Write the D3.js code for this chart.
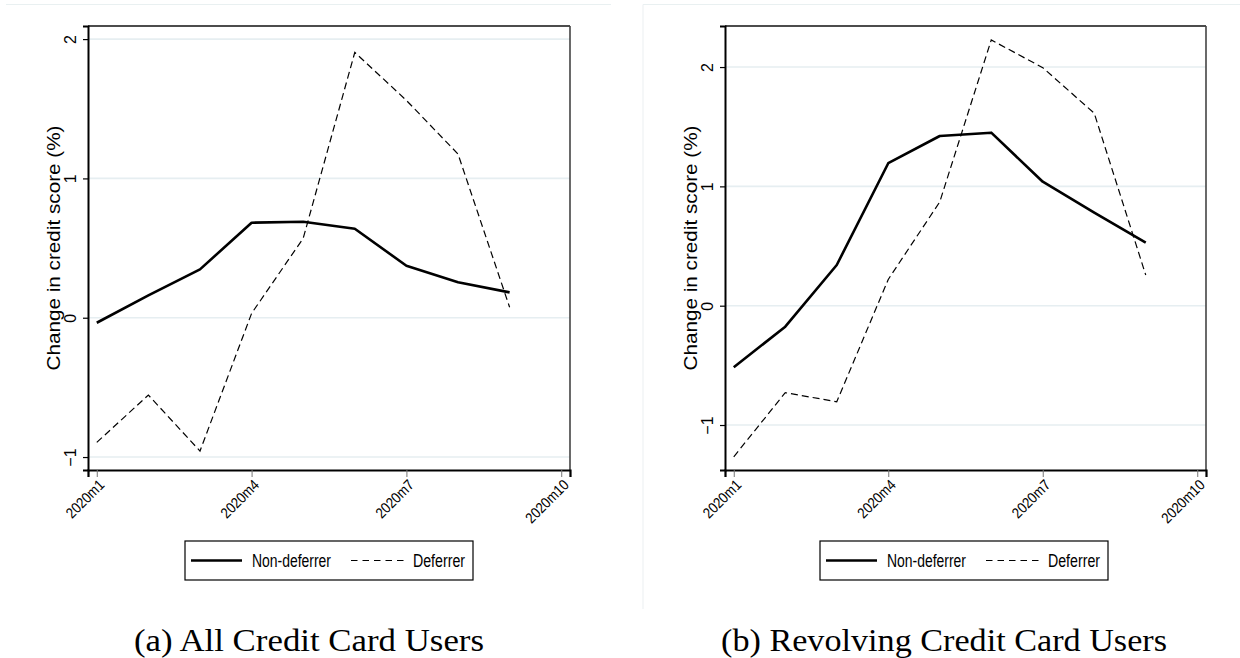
<!DOCTYPE html>
<html>
<head>
<meta charset="utf-8">
<script src="https://cdn.jsdelivr.net/npm/d3@7"></script>
<style>
  html, body { margin: 0; padding: 0; background: #ffffff; }
  svg { display: block; }
</style>
</head>
<body>
<svg id="fig" width="1240" height="658"></svg>
<script>
// Months since 2020m1 (1 = January 2020)
const months = [1, 2, 3, 4, 5, 6, 7, 8, 9];
const tickMonths = [1, 4, 7, 10];
const tickLabels = ["2020m1", "2020m4", "2020m7", "2020m10"];

// Panel (a): all credit card users
const allNonDeferrer = [-0.036, 0.16, 0.347, 0.682, 0.689, 0.639, 0.373, 0.254, 0.182];
const allDeferrer    = [-0.895, -0.555, -0.957, 0.031, 0.57, 1.905, 1.56, 1.175, 0.075];

// Panel (b): revolving credit card users
const revNonDeferrer = [-0.516, -0.176, 0.341, 1.194, 1.422, 1.45, 1.039, 0.78, 0.528];
const revDeferrer    = [-1.266, -0.729, -0.805, 0.22, 0.87, 2.227, 1.995, 1.613, 0.257];

const yTicks = [-1, 0, 1, 2];
const seriesNames = ["Non-deferrer", "Deferrer"];
const yTitle = "Change in credit score (%)";
const captions = ["(a) All Credit Card Users", "(b) Revolving Credit Card Users"];

const svg = d3.select("#fig");

const panels = [
  {
    caption: captions[0], nonDef: allNonDeferrer, def: allDeferrer,
    left: 88, right: 570, top: 26, bottom: 470, yDomain: [-1.093, 2.094],
    legend: { x0: 185, x1: 473 }, captionX: 309, captionLen: 350,
    outer: { x0: 6, x1: 611, leftEdge: false }
  },
  {
    caption: captions[1], nonDef: revNonDeferrer, def: revDeferrer,
    left: 725, right: 1206, top: 26, bottom: 470, yDomain: [-1.377, 2.344],
    legend: { x0: 820, x1: 1108 }, captionX: 944, captionLen: 446,
    outer: { x0: 643, x1: 1240, leftEdge: true }
  }
];

const sansFont = "'Liberation Sans', Arial, Helvetica, sans-serif";

panels.forEach(p => {
  const g = svg.append("g");

  // faint outer region border
  g.append("line")
    .attr("x1", p.outer.x0).attr("x2", p.outer.x1)
    .attr("y1", 4.5).attr("y2", 4.5)
    .attr("stroke", "#e9f0f1").attr("stroke-width", 1.2);
  if (p.outer.leftEdge) {
    g.append("line")
      .attr("x1", p.outer.x0).attr("x2", p.outer.x0)
      .attr("y1", 4.5).attr("y2", 609)
      .attr("stroke", "#eef2f3").attr("stroke-width", 1.2);
  }

  const x = d3.scaleLinear().domain([0.83, 10.17]).range([p.left, p.right]);
  const y = d3.scaleLinear().domain(p.yDomain).range([p.bottom, p.top]);

  // horizontal gridlines
  g.append("g").selectAll("line").data(yTicks).join("line")
    .attr("x1", p.left).attr("x2", p.right)
    .attr("y1", d => y(d)).attr("y2", d => y(d))
    .attr("stroke", "#e6eef1").attr("stroke-width", 1.6);

  // plot region frame
  g.append("line").attr("x1", p.left).attr("x2", p.right)
    .attr("y1", p.top).attr("y2", p.top)
    .attr("stroke", "#111").attr("stroke-width", 1.4);
  g.append("line").attr("x1", p.right).attr("x2", p.right)
    .attr("y1", p.top).attr("y2", p.bottom)
    .attr("stroke", "#444").attr("stroke-width", 1.6);

  // y axis (rotated tick labels)
  const yAxis = d3.axisLeft(y).tickValues(yTicks).tickSize(5).tickFormat(d3.format("d"));
  const ya = g.append("g").attr("transform", `translate(${p.left},0)`).call(yAxis);
  ya.select(".domain").attr("stroke", "#000").attr("stroke-width", 2);
  ya.selectAll(".tick line").attr("stroke", "#000").attr("stroke-width", 1.2);
  ya.selectAll(".tick text")
    .attr("font-family", sansFont).attr("font-size", 16).attr("fill", "#000")
    .attr("x", null).attr("dy", null)
    .attr("text-anchor", "middle")
    .attr("transform", "translate(-12,0) rotate(-90)");

  // x axis (angled tick labels)
  const xAxis = d3.axisBottom(x).tickValues(tickMonths).tickSize(7)
    .tickFormat((d, i) => tickLabels[i]);
  const xa = g.append("g").attr("transform", `translate(0,${p.bottom})`).call(xAxis);
  xa.select(".domain").attr("stroke", "#000").attr("stroke-width", 2.2);
  xa.selectAll(".tick line").attr("stroke", "#777").attr("stroke-width", 1);
  xa.selectAll(".tick text")
    .attr("font-family", sansFont).attr("font-size", 15).attr("fill", "#000")
    .attr("y", null).attr("dy", null)
    .attr("text-anchor", "end")
    .attr("textLength", (d, i) => tickLabels[i].length === 7 ? 54 : 47)
    .attr("lengthAdjust", "spacingAndGlyphs")
    .attr("transform", "translate(8,16) rotate(-45)");

  // y axis title
  g.append("text")
    .attr("transform", `translate(${p.left - 28},${(p.top + p.bottom) / 2}) rotate(-90)`)
    .attr("text-anchor", "middle")
    .attr("font-family", sansFont).attr("font-size", 19)
    .attr("textLength", 245).attr("lengthAdjust", "spacingAndGlyphs")
    .text(yTitle);

  // series lines
  const line = d3.line().x((d, i) => x(months[i])).y(d => y(d));
  g.append("path").datum(p.def)
    .attr("d", line).attr("fill", "none")
    .attr("stroke", "#000").attr("stroke-width", 1.2)
    .attr("stroke-dasharray", "7,4");
  g.append("path").datum(p.nonDef)
    .attr("d", line).attr("fill", "none")
    .attr("stroke", "#000").attr("stroke-width", 2.6)
    .attr("stroke-linejoin", "round");

  // legend
  const L = p.legend, ly0 = 541, ly1 = 580, lmid = (ly0 + ly1) / 2;
  g.append("rect").attr("x", L.x0).attr("y", ly0)
    .attr("width", L.x1 - L.x0).attr("height", ly1 - ly0)
    .attr("fill", "#fff").attr("stroke", "#000").attr("stroke-width", 1.2);
  g.append("line").attr("x1", L.x0 + 6).attr("x2", L.x0 + 57)
    .attr("y1", lmid).attr("y2", lmid)
    .attr("stroke", "#000").attr("stroke-width", 2.6);
  g.append("text").attr("x", L.x0 + 67).attr("y", lmid + 6.5)
    .attr("font-family", sansFont).attr("font-size", 18)
    .attr("textLength", 79).attr("lengthAdjust", "spacingAndGlyphs")
    .text(seriesNames[0]);
  g.append("line").attr("x1", L.x0 + 166).attr("x2", L.x0 + 220)
    .attr("y1", lmid).attr("y2", lmid)
    .attr("stroke", "#000").attr("stroke-width", 1.2)
    .attr("stroke-dasharray", "6.5,5");
  g.append("text").attr("x", L.x0 + 228).attr("y", lmid + 6.5)
    .attr("font-family", sansFont).attr("font-size", 18)
    .attr("textLength", 52).attr("lengthAdjust", "spacingAndGlyphs")
    .text(seriesNames[1]);

  // caption
  g.append("text").attr("x", p.captionX).attr("y", 651)
    .attr("text-anchor", "middle")
    .attr("font-family", "'Liberation Serif', 'DejaVu Serif', serif")
    .attr("font-size", 32)
    .attr("textLength", p.captionLen).attr("lengthAdjust", "spacingAndGlyphs")
    .text(p.caption);
});
</script>
</body>
</html>
